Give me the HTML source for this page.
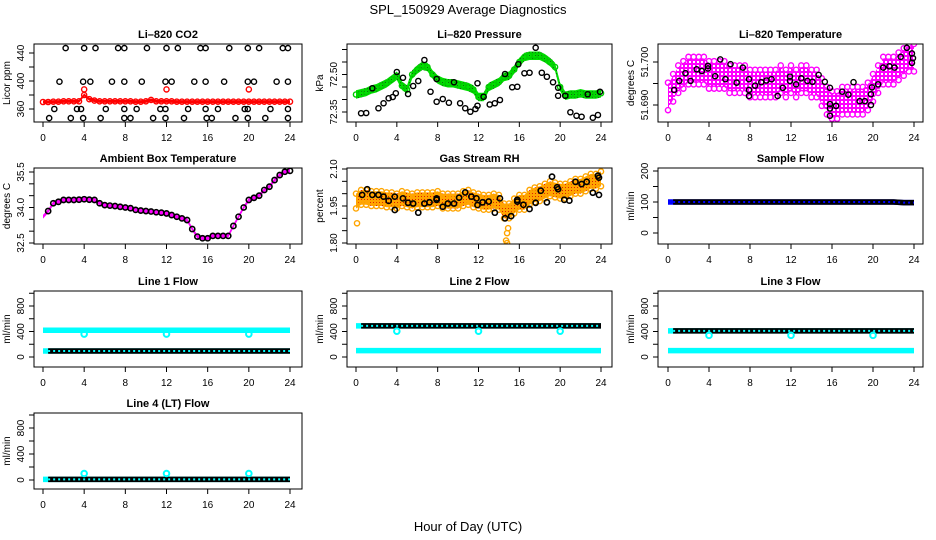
<!DOCTYPE html>
<html><head><meta charset="utf-8">
<style>
html,body{margin:0;padding:0;background:#fff;}
svg{display:block;font-family:"Liberation Sans",sans-serif;}
</style></head>
<body>
<svg id="chart" width="936" height="540" viewBox="0 0 936 540" xmlns="http://www.w3.org/2000/svg">
<defs>
<pattern id="pGreen" width="3" height="3" patternUnits="userSpaceOnUse"><rect width="3" height="3" fill="#00e000"/><rect x="1" y="1" width="1" height="1" fill="#116611"/></pattern>
<pattern id="pMag" width="4" height="4" patternUnits="userSpaceOnUse"><rect width="4" height="4" fill="#ff00ff"/><rect x="1" y="1" width="2" height="2" fill="#ffffff"/></pattern>
<pattern id="pOrange" width="3" height="3" patternUnits="userSpaceOnUse"><rect width="3" height="3" fill="#ffa500"/><rect x="1" y="1" width="1" height="1" fill="#dd2200"/></pattern>
</defs>
<text x="468" y="14" text-anchor="middle" font-size="13">SPL_150929  Average Diagnostics</text>
<text x="468" y="531" text-anchor="middle" font-size="13">Hour of Day (UTC)</text>
</svg>
<script>
// ---------- data ----------
const xTicks = [0,4,8,12,16,20,24];
const halfHours = [0,0.5,1,1.5,2,2.5,3,3.5,4,4.5,5,5.5,6,6.5,7,7.5,8,8.5,9,9.5,10,10.5,11,11.5,12,12.5,13,13.5,14,14.5,15,15.5,16,16.5,17,17.5,18,18.5,19,19.5,20,20.5,21,21.5,22,22.5,23,23.5,24];
const hours = [0,1,2,3,4,5,6,7,8,9,10,11,12,13,14,15,16,17,18,19,20,21,22,23,24];

// CO2
const co2Red = [370,370,370.5,370.5,371,371,371,371,380,374,372,371,371,371,371,371,371,371,370.5,370.5,371,373,371,371,371,371,370.5,370.5,370.5,370.5,370.5,370.5,370.5,370.5,370.5,370.5,370.5,370.5,370.5,370.5,370.5,370.5,370.5,370.5,370.5,370.5,370.5,370.5,370.5];
const co2RedOutX = [4,12,20];
const co2RedOutY = [388,388,388];
const co2BlkX = [2.2,4.0,5.1,7.3,7.9,10.1,12.0,13.1,15.3,15.8,18.1,19.9,21.0,23.3,23.8, 1.6,3.9,4.6,6.7,7.9,9.6,11.9,12.5,14.7,15.8,17.6,19.9,20.5,22.7,23.8, 1.1,3.3,3.7,6.1,7.9,9.1,11.4,11.9,14.1,15.8,17.0,19.6,19.9,22.1,23.8, 0.6,2.7,3.9,5.6,7.9,8.5,10.7,11.9,13.7,15.9,16.4,18.7,19.9,21.6,23.8];
const co2BlkY = [447,447,447,447,447,447,447,447,447,447,447,447,447,447,447, 399,399,399,399,399,399,399,399,399,399,399,399,399,399,399, 360,360,360,360,360,360,360,360,360,360,360,360,360,360,360, 347,347,347,347,347,347,347,347,347,347,347,347,347,347,347];

// Pressure
const presGreen = [72.42,72.425,72.43,72.44,72.445,72.455,72.465,72.48,72.495,72.455,72.44,72.5,72.52,72.535,72.53,72.5,72.48,72.47,72.465,72.465,72.46,72.455,72.45,72.44,72.41,72.41,72.45,72.46,72.47,72.49,72.495,72.52,72.55,72.57,72.575,72.575,72.575,72.565,72.55,72.53,72.45,72.415,72.42,72.42,72.425,72.42,72.42,72.42,72.425];
const presBlkX = [0.5,1.0,1.6,2.2,2.7,3.2,3.6,3.9,4.0,4.6,5.1,5.6,6.1,6.7,7.3,7.9,7.9,8.5,9.1,9.6,10.2,10.7,11.2,11.7,11.9,11.9,12.5,13.1,13.6,14.1,14.6,15.3,15.8,15.9,16.5,17.0,17.6,18.2,18.7,19.3,19.8,19.8,20.5,21.0,21.6,22.1,22.7,23.2,23.7,23.9];
const presBlkY = [72.345,72.346,72.445,72.365,72.385,72.405,72.41,72.425,72.51,72.487,72.422,72.454,72.474,72.558,72.431,72.482,72.391,72.402,72.387,72.469,72.385,72.365,72.351,72.362,72.465,72.375,72.411,72.38,72.385,72.398,72.502,72.449,72.451,72.541,72.505,72.507,72.607,72.507,72.491,72.469,72.447,72.415,72.415,72.349,72.335,72.331,72.421,72.327,72.338,72.431];

// Li-820 temperature
const tempMag = [51.692,51.694,51.696,51.697,51.698,51.698,51.698,51.698,51.697,51.697,51.697,51.697,51.696,51.696,51.696,51.696,51.695,51.695,51.695,51.695,51.695,51.695,51.696,51.695,51.696,51.695,51.696,51.696,51.695,51.695,51.693,51.691,51.690,51.690,51.691,51.691,51.691,51.691,51.691,51.692,51.694,51.696,51.698,51.698,51.698,51.699,51.700,51.701,51.701];
const tempBlkX = [0.6,1.1,1.7,2.2,2.8,3.3,3.9,3.9,4.6,5.1,5.6,6.1,6.7,7.3,7.9,7.9,7.9,8.5,9.1,9.6,10.1,10.7,11.2,11.9,11.9,12.5,13.0,13.6,14.1,14.7,15.3,15.8,15.8,15.8,15.8,16.4,17.0,17.6,18.1,18.7,19.2,19.8,19.8,19.9,20.5,21.0,21.6,22.1,22.7,23.3,23.8,23.8,23.9];
const tempBlkY = [51.6935,51.6956,51.6974,51.6956,51.6983,51.6979,51.6985,51.6991,51.6967,51.7006,51.6960,51.6995,51.6952,51.6987,51.6960,51.6935,51.6921,51.6945,51.6953,51.6957,51.6960,51.6921,51.6940,51.6966,51.6956,51.6948,51.6962,51.6956,51.6954,51.6970,51.6954,51.6940,51.6902,51.6892,51.6875,51.6898,51.6931,51.6924,51.6953,51.6909,51.6909,51.6900,51.6925,51.6941,51.6948,51.6987,51.6990,51.6987,51.7012,51.7033,51.7020,51.6998,51.7009];

// Ambient box temperature
const ambMag = [33.61,33.85,34.18,34.24,34.32,34.32,34.32,34.33,34.35,34.33,34.32,34.18,34.1,34.08,34.06,34.03,34.0,33.97,33.9,33.87,33.85,33.83,33.8,33.78,33.75,33.68,33.61,33.54,33.47,33.09,32.77,32.7,32.7,32.8,32.8,32.8,32.8,33.22,33.61,34.0,34.32,34.41,34.5,34.74,34.88,35.16,35.37,35.51,35.55];

// Gas stream RH
const rhOrange = [1.97,1.985,1.985,1.98,1.98,1.98,1.975,1.975,1.97,1.98,1.975,1.97,1.975,1.975,1.975,1.975,1.98,1.97,1.97,1.97,1.97,1.98,1.985,1.975,1.97,1.965,1.965,1.97,1.965,1.93,1.93,1.95,1.965,1.965,1.985,1.995,2.0,2.01,2.02,2.015,2.01,2.01,2.02,2.03,2.03,2.04,2.05,2.05,2.06];
const rhOutX = [0.1,14.7,14.8,14.9,14.8];
const rhOutY = [1.88,1.81,1.84,1.86,1.80];
const rhBlkX = [0.6,1.1,1.6,2.2,2.7,3.2,3.8,3.8,4.6,5.1,5.6,6.1,6.7,7.2,7.9,7.9,8.5,9.0,9.6,10.1,10.7,11.3,11.8,11.9,12.4,13.0,13.6,14.1,14.6,15.2,15.8,15.8,16.4,17.0,17.6,18.1,18.7,19.2,19.7,19.8,20.4,20.9,21.5,22.1,22.6,23.2,23.7,23.8,23.8];
const rhBlkY = [1.995,2.018,1.995,1.995,1.988,1.971,1.988,1.934,1.981,1.963,1.96,1.923,1.96,1.965,1.981,1.975,1.947,1.96,1.96,1.984,2.005,1.988,1.981,1.954,1.965,1.968,1.923,1.981,1.90,1.909,1.975,1.968,1.955,1.938,1.963,2.012,1.965,2.069,2.026,2.018,1.975,1.972,2.048,2.039,2.048,2.004,2.073,1.995,2.065];

// Flows (hourly levels, ml/min)
const sampleFlow = [100,100,100,100,100,100,100,100,100,100,100,100,100,100,100,100,100,100,100,100,100,100,100,98,98];
const line1High = [420,420,420,420,420,420,420,420,420,420,420,420,420,420,420,420,420,420,420,420,420,420,420,420,420];
const line1Low = [95,95,95,95,95,95,95,95,95,95,95,95,95,95,95,95,95,95,95,95,95,95,95,95,95];
const line2High = [488,488,488,488,488,488,488,488,488,488,488,488,488,488,488,488,488,488,488,488,488,488,488,488,488];
const line2Low = [100,100,100,100,100,100,100,100,100,100,100,100,100,100,100,100,100,100,100,100,100,100,100,100,100];
const line3High = [410,410,410,410,410,410,410,410,410,410,410,410,410,410,410,410,410,410,410,410,410,410,410,410,410];
const line3Low = [100,100,100,100,100,100,100,100,100,100,100,100,100,100,100,100,100,100,100,100,100,100,100,100,100];
const line4Level = [10,10,10,10,10,10,10,10,10,10,10,10,10,10,10,10,10,10,10,10,10,10,10,10,10];
const outX = [4,12,20];
const line1OutY = [360,360,360];
const line2OutY = [405,405,405];
const line3OutY = [340,340,340];
const line4OutY = [100,100,100];

// ---------- drawing ----------
const NS = "http://www.w3.org/2000/svg";
const svg = document.getElementById('chart');
function mk(tag, attrs, parent){
  const e = document.createElementNS(NS, tag);
  for (const k in attrs) e.setAttribute(k, attrs[k]);
  (parent||svg).appendChild(e);
  return e;
}
const cols = [{l:34,r:302,x0:43,x24:290},{l:347,r:612,x0:356,x24:601},{l:658,r:923,x0:668,x24:914}];
const rows = [{t:44,b:122},{t:168,b:244},{t:291,b:367},{t:413,b:489}];

function panel(ci, ri, name, title, ylab, yA, ticks, labels){
  const c = cols[ci], r = rows[ri];
  const g = mk('g', {});
  
  
  const sx = v => c.x0 + (c.x24 - c.x0) * v / 24;
  const sy = v => yA[1] + (v - yA[0]) * (yA[3] - yA[1]) / (yA[2] - yA[0]);
  const clipId = 'clip' + ci + ri;
  const cp = mk('clipPath', {id: clipId}, g);
  mk('rect', {x:c.l, y:r.t, width:c.r-c.l, height:r.b-r.t}, cp);
  const plot = mk('g', {'clip-path':'url(#'+clipId+')'}, g);
  
  
  const frame = mk('rect', {x:c.l, y:r.t, width:c.r-c.l, height:r.b-r.t, fill:'none', stroke:'#000', 'stroke-width':1}, g);
  
  
  const t = mk('text', {x:(c.l+c.r)/2, y:r.t-6, 'text-anchor':'middle', 'font-size':11, 'font-weight':'bold'}, g);
  t.textContent = title;
  
  
  const xa = mk('g', {}, g);
  
  
  mk('line', {x1:sx(0), x2:sx(24), y1:r.b, y2:r.b, stroke:'#000'}, xa);
  xTicks.forEach(v => {
    mk('line', {x1:sx(v), x2:sx(v), y1:r.b, y2:r.b+5, stroke:'#000'}, xa);
    const tl = mk('text', {x:sx(v), y:r.b+19, 'text-anchor':'middle', 'font-size':10}, xa);
    tl.textContent = v;
    
    
  });
  const ya = mk('g', {}, g);
  
  
  const ys = ticks.map(sy);
  mk('line', {x1:c.l, x2:c.l, y1:Math.min(...ys), y2:Math.max(...ys), stroke:'#000'}, ya);
  ticks.forEach(v => {
    mk('line', {x1:c.l-5, x2:c.l, y1:sy(v), y2:sy(v), stroke:'#000'}, ya);
  });
  labels.forEach(v => {
    const yy = sy(Number(v));
    const tl = mk('text', {x:c.l-10, y:yy, 'text-anchor':'middle', 'font-size':10, transform:'rotate(-90 '+(c.l-10)+' '+yy+')'}, ya);
    tl.textContent = v;
    
    
  });
  const ym = (r.t + r.b) / 2;
  const yt = mk('text', {x:c.l-24, y:ym, 'text-anchor':'middle', 'font-size':10, transform:'rotate(-90 '+(c.l-24)+' '+ym+')'}, g);
  yt.textContent = ylab;
  
  
  return {sx, sy, plot};
}

function circles(P, xs, ys, color, name, rr, sw){
  xs.forEach((x, i) => {
    const e = mk('circle', {cx:P.sx(x), cy:P.sy(ys[i]), r:rr||2.6, fill:'none', stroke:color, 'stroke-width':sw||1.4}, P.plot);
    
    
  });
}
function band(P, xs, vals, spread, fill, name){
  const top = xs.map((x,i) => P.sx(x)+','+P.sy(vals[i]+spread));
  const bot = xs.map((x,i) => P.sx(x)+','+P.sy(vals[i]-spread)).reverse();
  const e = mk('polygon', {points: top.concat(bot).join(' '), fill: fill, stroke: 'none'}, P.plot);
  
  
}
function chain(P, xs, vals, color, inner, name){
  const pts = xs.map((x,i) => P.sx(x)+','+P.sy(vals[i])).join(' ');
  const e = mk('polyline', {points:pts, fill:'none', stroke:color, 'stroke-width':5.5}, P.plot);
  
  
  const h = mk('polyline', {points:pts, fill:'none', stroke:inner, 'stroke-width':2, 'stroke-dasharray':'2 3'}, P.plot);
  
  
}
const blackStart = [0.5];

// Panel 1: CO2
let P = panel(0,0,'co2','Li\u2013820 CO2','Licor ppm',[360,109,440,53],[360,380,400,420,440],['360','400','440']);
band(P, halfHours, co2Red, 2.2, '#ff0000', 'co2-red-series');
circles(P, halfHours, co2Red, '#ff0000', 'co2-red-point');
circles(P, co2RedOutX, co2RedOutY, '#ff0000', 'co2-red-outlier');
circles(P, co2BlkX, co2BlkY, '#000', 'co2-black-point');

// Panel 2: Pressure
P = panel(1,0,'pressure','Li\u2013820 Pressure','kPa',[72.35,112,72.55,62],[72.35,72.40,72.45,72.50,72.55,72.60],['72.35','72.50']);
band(P, halfHours, presGreen, 0.017, 'url(#pGreen)', 'pressure-green-series');
circles(P, halfHours, presGreen, '#00cc00', 'pressure-green-point');
circles(P, presBlkX, presBlkY, '#000', 'pressure-black-point');

// Panel 3: Li-820 Temperature
P = panel(2,0,'licor-temp','Li\u2013820 Temperature','degrees C',[51.690,105,51.700,62],[51.690,51.695,51.700],['51.690','51.700']);
band(P, halfHours, tempMag, 0.0028, 'url(#pMag)', 'licor-temp-magenta-series');
circles(P, halfHours, tempMag.map(v=>v+0.0032), '#ff00ff', 'licor-temp-magenta-point');
circles(P, halfHours, tempMag.map(v=>v-0.0032), '#ff00ff', 'licor-temp-magenta-point');
circles(P, tempBlkX, tempBlkY, '#000', 'licor-temp-black-point');

// Panel 4: Ambient box temperature
P = panel(0,1,'ambient-temp','Ambient Box Temperature','degrees C',[32.5,243,35.5,172],[32.5,33.0,33.5,34.0,34.5,35.0,35.5],['32.5','34.0','35.5']);
band(P, halfHours, ambMag, 0.08, '#ff00ff', 'ambient-magenta-series');
circles(P, halfHours.slice(1), ambMag.slice(1), '#000', 'ambient-black-point', 2.6, 1.6);

// Panel 5: RH
P = panel(1,1,'gas-rh','Gas Stream RH','percent',[1.80,243,2.10,169],[1.80,1.85,1.90,1.95,2.00,2.05,2.10],['1.80','1.95','2.10']);
band(P, halfHours, rhOrange, 0.03, 'url(#pOrange)', 'rh-orange-series');
circles(P, halfHours, rhOrange.map(v=>v+0.03), '#ffa500', 'rh-orange-point');
circles(P, halfHours, rhOrange.map(v=>v-0.03), '#ffa500', 'rh-orange-point');
circles(P, rhOutX, rhOutY, '#ffa500', 'rh-orange-outlier');
circles(P, rhBlkX, rhBlkY, '#000', 'rh-black-point', 2.6, 1.6);

// Panel 6: Sample flow
P = panel(2,1,'sample-flow','Sample Flow','ml/min',[0,233,200,171],[0,50,100,150,200],['0','100','200']);
chain(P, hours, sampleFlow, '#0000ff', '#0000ff', 'sample-flow-blue-series');
chain(P, blackStart.concat(hours.slice(1)), sampleFlow, '#000', '#0000ff', 'sample-flow-black-series');

// Panel 7-9: Line flows
const flowTicks = [0,200,400,600,800,1000];
const flowLabels = ['0','400','800'];
P = panel(0,2,'line1-flow','Line 1 Flow','ml/min',[0,357,800,306],flowTicks,flowLabels);
chain(P, hours, line1High, '#00ffff', '#00ffff', 'line1-cyan-high-series');
chain(P, hours, line1Low, '#00ffff', '#00ffff', 'line1-cyan-low-series');
chain(P, blackStart.concat(hours.slice(1)), line1Low, '#000', '#00ffff', 'line1-black-series');
circles(P, outX, line1OutY, '#00ffff', 'line1-outlier', 2.8, 2);

P = panel(1,2,'line2-flow','Line 2 Flow','ml/min',[0,357,800,306],flowTicks,flowLabels);
chain(P, hours, line2High, '#00ffff', '#00ffff', 'line2-cyan-high-series');
chain(P, hours, line2Low, '#00ffff', '#00ffff', 'line2-cyan-low-series');
chain(P, blackStart.concat(hours.slice(1)), line2High, '#000', '#00ffff', 'line2-black-series');
circles(P, outX, line2OutY, '#00ffff', 'line2-outlier', 2.8, 2);

P = panel(2,2,'line3-flow','Line 3 Flow','ml/min',[0,357,800,306],flowTicks,flowLabels);
chain(P, hours, line3High, '#00ffff', '#00ffff', 'line3-cyan-high-series');
chain(P, hours, line3Low, '#00ffff', '#00ffff', 'line3-cyan-low-series');
chain(P, blackStart.concat(hours.slice(1)), line3High, '#000', '#00ffff', 'line3-black-series');
circles(P, outX, line3OutY, '#00ffff', 'line3-outlier', 2.8, 2);

P = panel(0,3,'line4-flow','Line 4 (LT) Flow','ml/min',[0,480,800,428],flowTicks,flowLabels);
chain(P, hours, line4Level, '#00ffff', '#00ffff', 'line4-cyan-series');
chain(P, blackStart.concat(hours.slice(1)), line4Level, '#000', '#00ffff', 'line4-black-series');
circles(P, outX, line4OutY, '#00ffff', 'line4-outlier', 2.8, 2);
</script>
</body></html>
